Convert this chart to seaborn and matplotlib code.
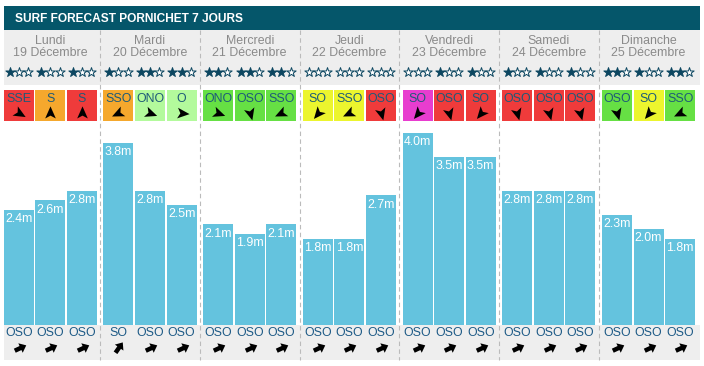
import numpy as np
import pandas as pd
import seaborn as sns
import matplotlib.pyplot as plt
from matplotlib.patches import Rectangle
from matplotlib.path import Path
from matplotlib.markers import MarkerStyle
from matplotlib.transforms import Affine2D

title = "SURF FORECAST PORNICHET 7 JOURS"
days = ["Lundi", "Mardi", "Mercredi", "Jeudi", "Vendredi", "Samedi", "Dimanche"]
dates = ["19 Décembre", "20 Décembre", "21 Décembre", "22 Décembre",
         "23 Décembre", "24 Décembre", "25 Décembre"]

# 3 slots per day
wave = [2.4, 2.6, 2.8, 3.8, 2.8, 2.5, 2.1, 1.9, 2.1, 1.8, 1.8, 2.7,
        4.0, 3.5, 3.5, 2.8, 2.8, 2.8, 2.3, 2.0, 1.8]
stars = [1, 1, 1, 1, 2, 2, 2, 2, 2, 0, 0, 0, 0, 1, 1, 1, 1, 1, 2, 1, 2]
wind_dir = ["SSE", "S", "S", "SSO", "ONO", "O", "ONO", "OSO", "SSO",
            "SO", "SSO", "OSO", "SO", "OSO", "SO", "OSO", "OSO", "OSO",
            "OSO", "SO", "SSO"]
wind_col = ["red", "orange", "red", "orange", "lgreen", "lgreen",
            "green", "green", "green", "yellow", "yellow", "red",
            "magenta", "red", "red", "red", "red", "red",
            "green", "yellow", "green"]
swell_dir = ["OSO", "OSO", "OSO", "SO", "OSO", "OSO", "OSO", "OSO", "OSO",
             "OSO", "OSO", "OSO", "OSO", "OSO", "OSO", "OSO", "OSO", "OSO",
             "OSO", "OSO", "OSO"]

palette = {"red": "#ef3b3b", "orange": "#f5a82d", "lgreen": "#b3fa9c",
           "green": "#66e044", "yellow": "#ecf52e", "magenta": "#e83dcf"}
# arrow angles as drawn in the picture
wind_ang = {"SSE": -30, "S": 90, "SSO": 205, "ONO": -20, "O": -5,
            "OSO": -75, "SO": 230}
swell_ang = {"OSO": 25, "SO": 55}

sns.set_style("white")
plt.rcParams['font.family'] = ['Liberation Sans', 'DejaVu Sans']

W, H = 704, 366
COLW, X0 = 99.7, 0.5
SLOT = 0.317
FS = 8.9


def dx(px):
    return (px - X0) / COLW - 0.5


slot_x = [round(d + (k - 1) * SLOT, 3) for d in range(7) for k in range(3)]

fig = plt.figure(figsize=(W / 100, H / 100), dpi=100)
bg = fig.add_axes([0, 0, 1, 1])
bg.set_xlim(dx(0), dx(W))
bg.set_ylim(H, 0)
bg.axis('off')

# title bar + gray bands
bg.add_patch(Rectangle((dx(4), 6), dx(700) - dx(4), 24, color='#05566a', lw=0))
bg.text(dx(15), 18.5, title, color='white', fontsize=8.6, fontweight='bold',
        va='center', ha='left')
bg.add_patch(Rectangle((dx(4), 30), dx(700) - dx(4), 55, color='#eeeeee', lw=0))
bg.add_patch(Rectangle((dx(4), 325), dx(700) - dx(4), 35, color='#eeeeee', lw=0))
for d in range(1, 7):
    bg.plot([d - 0.5, d - 0.5], [30, 360], color='#bbbbbb', lw=0.8,
            ls=(0, (4, 3)), zorder=1)

for d in range(7):
    bg.text(d, 41.5, days[d], ha='center', va='center', fontsize=FS, color='#8a8a8a')
    bg.text(d, 53, dates[d], ha='center', va='center', fontsize=FS, color='#8a8a8a')

nav = Path([(1, 0), (-0.7, 0.75), (-0.3, 0), (-0.7, -0.75), (1, 0)],
           [Path.MOVETO, Path.LINETO, Path.LINETO, Path.LINETO, Path.CLOSEPOLY])
fat = Path([(-0.7, -0.3), (0.15, -0.3), (0.15, -0.7), (1, 0), (0.15, 0.7),
            (0.15, 0.3), (-0.7, 0.3), (-0.7, -0.3)],
           [Path.MOVETO] + [Path.LINETO] * 6 + [Path.CLOSEPOLY])

bw = 30 / COLW
for i, x in enumerate(slot_x):
    # stars
    for j in range(3):
        sx = x + (j - 1) * 9.2 / COLW
        fc = '#0c4660' if j < stars[i] else 'white'
        bg.scatter(sx, 72, marker='*', s=50, facecolor=fc, edgecolor='#0c4660',
                   linewidth=0.7, zorder=3)
    # wind box
    bg.add_patch(Rectangle((x - bw / 2, 90), bw, 31, color=palette[wind_col[i]], lw=0))
    bg.text(x, 98.5, wind_dir[i], ha='center', va='center', fontsize=FS,
            color='#1d5a78')
    ms = MarkerStyle(nav, transform=Affine2D().rotate_deg(wind_ang[wind_dir[i]]))
    bg.scatter(x, 113, marker=ms, s=105, color='black', lw=0, zorder=3)
    # swell
    bg.text(x, 333, swell_dir[i], ha='center', va='center', fontsize=FS,
            color='#1d5a86')
    ms = MarkerStyle(fat, transform=Affine2D().rotate_deg(swell_ang[swell_dir[i]]))
    bg.scatter(x, 347.5, marker=ms, s=115, color='black', lw=0, zorder=3)

# wave bars
df = pd.DataFrame({"x": slot_x, "wave": wave})
ax = fig.add_axes([X0 / W, (H - 325) / H, COLW * 7 / W, 204 / H])
ax.patch.set_alpha(0)
sns.barplot(data=df, x="x", y="wave", native_scale=True, width=0.95,
            color="#64c3de", saturation=1, errorbar=None, linewidth=0, ax=ax)
ax.set_xlim(-0.5, 6.5)
ax.set_ylim(0, 204 / 48)
ax.axis('off')
for x, v in zip(slot_x, wave):
    ax.annotate(f"{v:.1f}m", (x, v), xytext=(0, -6.8), textcoords='offset points',
                ha='center', va='center', color='white', fontsize=FS)

fig.savefig("out.png", dpi=100)
